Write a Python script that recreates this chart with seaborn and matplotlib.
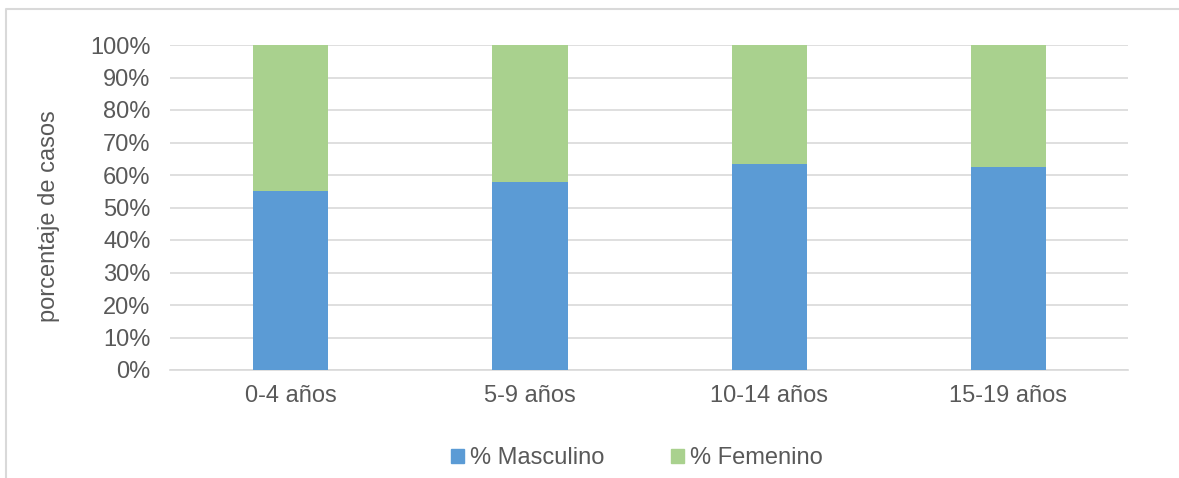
import matplotlib
matplotlib.use("Agg")
import matplotlib.pyplot as plt
from matplotlib.patches import Rectangle
from matplotlib.lines import Line2D
from matplotlib.ticker import FuncFormatter
import seaborn as sns
import pandas as pd

# Age groups and share of cases by sex (%)
grupos = ["0-4 años", "5-9 años", "10-14 años", "15-19 años"]
masculino = [55.2, 57.8, 63.5, 62.6]
femenino = [44.8, 42.2, 36.5, 37.4]

azul = "#5B9BD5"
verde = "#A9D18E"
gris_texto = "#595959"
gris_linea = "#D9D9D9"

sns.set_theme(style="white")
plt.rcParams["font.family"] = ["Liberation Sans", "DejaVu Sans"]

df = pd.DataFrame({"grupo": grupos, "masc": masculino, "fem": femenino})
df["total"] = df["masc"] + df["fem"]

fig = plt.figure(figsize=(11.79, 4.78), dpi=100)
ax = fig.add_axes([170 / 1179, 1 - 370 / 478, 958 / 1179, 325 / 478])

# Stacked bars: full height in green, masculine portion in blue on top
sns.barplot(data=df, x="grupo", y="total", color=verde, width=0.314,
            saturation=1, ax=ax, zorder=2)
sns.barplot(data=df, x="grupo", y="masc", color=azul, width=0.314,
            saturation=1, ax=ax, zorder=3)
for p in ax.patches:
    p.set_edgecolor("none")

ax.set_xlim(-0.505, 3.5)
ax.set_ylim(0, 100)
ax.set_yticks(range(0, 101, 10))
ax.yaxis.set_major_formatter(FuncFormatter(lambda v, _: f"{v:.0f}%"))
ax.grid(axis="y", color=gris_linea, linewidth=1.2, zorder=0)
ax.set_axisbelow(True)
for side in ["top", "right", "left"]:
    ax.spines[side].set_visible(False)
ax.spines["bottom"].set_color(gris_linea)
ax.spines["bottom"].set_linewidth(1.2)
ax.tick_params(axis="both", length=0, labelsize=17, labelcolor=gris_texto)
ax.tick_params(axis="y", pad=14)
ax.tick_params(axis="x", pad=11)
ax.set_xlabel("")
ax.set_ylabel("porcentaje de casos", fontsize=17, color=gris_texto, labelpad=26)
ax.yaxis.set_label_coords(-0.115, 0.475)

# Legend
handles = [Rectangle((0, 0), 1, 1, color=azul), Rectangle((0, 0), 1, 1, color=verde)]
fig.legend(handles, ["% Masculino", "% Femenino"], loc="center",
           bbox_to_anchor=(637 / 1179, 1 - 458 / 478), ncol=2, frameon=False,
           fontsize=17, labelcolor=gris_texto, handlelength=0.55, handleheight=0.55,
           handletextpad=0.25, columnspacing=2.85)

# Chart frame (left and top edges)
fig.lines.append(Line2D([5.5 / 1179, 5.5 / 1179, 1], [0, 1 - 9 / 478, 1 - 9 / 478],
                        transform=fig.transFigure, color=gris_linea, linewidth=1.5))

fig.savefig("out.png", dpi=100)
